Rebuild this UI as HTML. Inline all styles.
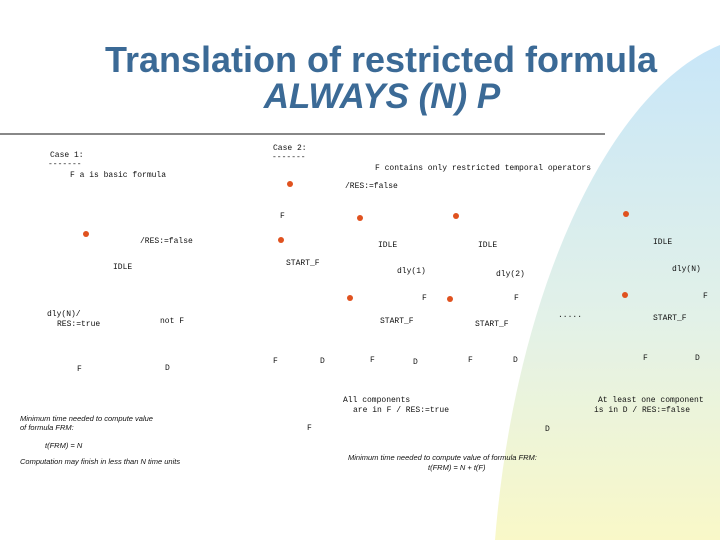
<!DOCTYPE html>
<html><head><meta charset="utf-8"><style>
html,body{margin:0;padding:0}
body{width:720px;height:540px;overflow:hidden;background:#fff;position:relative}
svg{position:absolute;left:0;top:0}
.m{font-family:"Liberation Mono",monospace;font-size:8px;fill:#111}
.i{font-family:"Liberation Sans",sans-serif;font-size:7.5px;font-style:italic;fill:#111}
</style></head><body>
<svg width="720" height="540" viewBox="0 0 720 540">
<defs><linearGradient id="g" x1="0" y1="0" x2="0" y2="1">
<stop offset="0" stop-color="#c8e6f8"/><stop offset="0.55" stop-color="#e2f1e8"/><stop offset="1" stop-color="#f9f8c8"/></linearGradient></defs>
<path d="M720 45 C610 90 515 290 495 540 L720 540 Z" fill="url(#g)"/>
<text x="381" y="72" text-anchor="middle" font-family="Liberation Sans,sans-serif" font-weight="bold" font-size="36" fill="#3b6a96">Translation of restricted formula</text>
<text x="382" y="108" text-anchor="middle" font-family="Liberation Sans,sans-serif" font-weight="bold" font-style="italic" font-size="35" fill="#3b6a96">ALWAYS (N) P</text>
<line x1="0" y1="134" x2="605" y2="134" stroke="#111" stroke-width="1"/>
<g fill="#e0521f">
<circle cx="290" cy="184" r="3"/><circle cx="86" cy="234" r="3"/><circle cx="281" cy="240" r="3"/>
<circle cx="360" cy="218" r="3"/><circle cx="456" cy="216" r="3"/><circle cx="626" cy="214" r="3"/>
<circle cx="350" cy="298" r="3"/><circle cx="450" cy="299" r="3"/><circle cx="625" cy="295" r="3"/>
</g>
<g class="m">
<text class="m" x="50" y="157">Case 1:</text><text class="m" x="48" y="166">-------</text>
<text class="m" x="70" y="177">F a is basic formula</text>
<text class="m" x="273" y="150">Case 2:</text><text class="m" x="272" y="159">-------</text>
<text class="m" x="375" y="170">F contains only restricted temporal operators</text>
<text class="m" x="345" y="188">/RES:=false</text>
<text class="m" x="280" y="218">F</text>
<text class="m" x="140" y="243">/RES:=false</text>
<text class="m" x="113" y="269">IDLE</text>
<text class="m" x="286" y="265">START_F</text>
<text class="m" x="378" y="247">IDLE</text><text class="m" x="478" y="247">IDLE</text><text class="m" x="653" y="244">IDLE</text>
<text class="m" x="397" y="273">dly(1)</text><text class="m" x="496" y="276">dly(2)</text><text class="m" x="672" y="271">dly(N)</text>
<text class="m" x="422" y="300">F</text><text class="m" x="514" y="300">F</text><text class="m" x="703" y="298">F</text>
<text class="m" x="558" y="317">.....</text>
<text class="m" x="47" y="316">dly(N)/</text><text class="m" x="57" y="326">RES:=true</text>
<text class="m" x="160" y="323">not F</text>
<text class="m" x="380" y="323">START_F</text><text class="m" x="475" y="326">START_F</text><text class="m" x="653" y="320">START_F</text>
<text class="m" x="77" y="371">F</text><text class="m" x="165" y="370">D</text>
<text class="m" x="273" y="363">F</text><text class="m" x="320" y="363">D</text>
<text class="m" x="370" y="362">F</text><text class="m" x="413" y="364">D</text>
<text class="m" x="468" y="362">F</text><text class="m" x="513" y="362">D</text>
<text class="m" x="643" y="360">F</text><text class="m" x="695" y="360">D</text>
<text class="m" x="343" y="402">All components</text><text class="m" x="353" y="412">are in F / RES:=true</text>
<text class="m" x="598" y="402">At least one component</text><text class="m" x="594" y="412">is in D / RES:=false</text>
<text class="m" x="307" y="430">F</text><text class="m" x="545" y="431">D</text>
</g>
<g>
<text class="i" x="20" y="421">Minimum time needed to compute value</text>
<text class="i" x="20" y="430">of formula FRM:</text>
<text class="i" x="45" y="448">t(FRM) = N</text>
<text class="i" x="20" y="464">Computation may finish in less than N time units</text>
<text class="i" x="348" y="460">Minimum time needed to compute value of formula FRM:</text>
<text class="i" x="428" y="470">t(FRM) = N + t(F)</text>
</g>
</svg>
</body></html>
